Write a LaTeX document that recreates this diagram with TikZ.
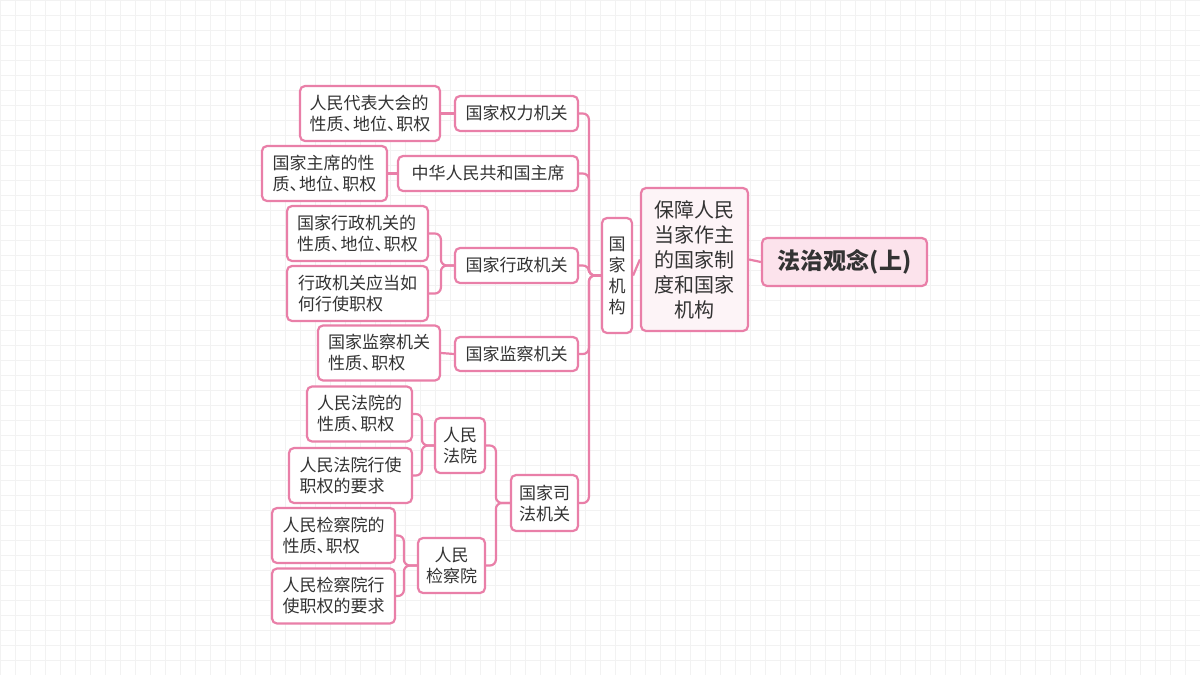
\documentclass[tikz,border=0pt]{standalone}
\usepackage{fontspec}
\setmainfont{Noto Sans CJK SC}
\usetikzlibrary{positioning}
\definecolor{mapline}{HTML}{E97FA8}
\definecolor{rootfill}{HTML}{FCE3EC}
\definecolor{midfill}{HTML}{FDF4F7}
\newcommand{\dun}{\hbox to 0.55em{、\hss}}
\tikzset{
  box/.style={draw=mapline, line width=1.1pt, rounded corners=2.5pt, fill=white,
    inner sep=2pt, font=\fontsize{8.5}{10.5}\selectfont, text=black!80},
  leaf/.style={box, align=left, minimum height=27.5pt},
  link/.style={draw=mapline, line width=1.1pt, rounded corners=3pt},
}
\begin{document}
\begin{tikzpicture}[x=0.5pt, y=-0.5pt]
  \useasboundingbox (0,0) rectangle (1200,675);
  \fill[white] (0,0) rectangle (1200,675);
  \draw[black!5, line width=0.3pt, step=7.5pt] (0,0) grid (1200,675);

  % centre and second level
  \node[box, fill=rootfill, minimum width=82.5pt, minimum height=24pt,
    font=\fontsize{11.5}{13}\selectfont\bfseries] (root) at (844.5,262) {法治观念(上)};
  \node[box, fill=midfill, align=center, minimum width=53.5pt, minimum height=71.5pt,
    font=\fontsize{10}{12.5}\selectfont] (sys) at (694.5,259.5)
    {保障人民\\当家作主\\的国家制\\度和国家\\机构};
  \node[box, align=center, minimum width=15pt, minimum height=57.5pt] (org) at (617,275.5)
    {国\\家\\机\\构};

  % organs
  \node[box, minimum width=61.5pt, minimum height=17.5pt] (power) at (516.5,113.5) {国家权力机关};
  \node[box, minimum width=90pt, minimum height=17.5pt] (pres) at (488,173.5) {中华人民共和国主席};
  \node[box, minimum width=61.5pt, minimum height=17.5pt] (admin) at (516.5,265.5) {国家行政机关};
  \node[box, minimum width=61.5pt, minimum height=17pt] (super) at (516.5,354) {国家监察机关};
  \node[box, align=center, minimum width=33.5pt, minimum height=28pt] (judic) at (544.5,503) {国家司\\法机关};
  \node[box, align=center, minimum width=25pt, minimum height=27.5pt] (court) at (460,445.5) {人民\\法院};
  \node[box, align=center, minimum width=33.5pt, minimum height=27.5pt] (procu) at (451.5,565.5) {人民\\检察院};

  % leaves
  \node[leaf, minimum width=70pt] (powerA) at (370,113.5) {人民代表大会的\\性质\dun 地位\dun 职权};
  \node[leaf, minimum width=62.5pt] (presA) at (324.5,173.5) {国家主席的性\\质\dun 地位\dun 职权};
  \node[leaf, minimum width=70.5pt] (adminA) at (357.5,233.5) {国家行政机关的\\性质\dun 地位\dun 职权};
  \node[leaf, minimum width=70.5pt] (adminB) at (357.5,293.5) {行政机关应当如\\何行使职权};
  \node[leaf, minimum width=61pt] (superA) at (379,353) {国家监察机关\\性质\dun 职权};
  \node[leaf, minimum width=52.5pt] (courtA) at (359.5,414) {人民法院的\\性质\dun 职权};
  \node[leaf, minimum width=61.5pt] (courtB) at (350.5,475.5) {人民法院行使\\职权的要求};
  \node[leaf, minimum width=61.5pt] (procuA) at (333.5,535.5) {人民检察院的\\性质\dun 职权};
  \node[leaf, minimum width=61.5pt] (procuB) at (333.5,596) {人民检察院行\\使职权的要求};

  % connectors
  \draw[link] (root.west) -- (sys.east);
  \draw[link] (sys.west) -- (org.east);
  \foreach \n in {power,pres,admin,super,judic}
    \draw[link] (org.west) -- ++(-12,0) |- (\n.east);
  \draw[link] (power.west) -- (powerA.east);
  \draw[link] (pres.west) -- (presA.east);
  \foreach \n in {adminA,adminB}
    \draw[link] (admin.west) -- ++(-13,0) |- (\n.east);
  \draw[link] (super.west) -- (superA.east);
  \foreach \n in {court,procu}
    \draw[link] (judic.west) -- ++(-14,0) |- (\n.east);
  \foreach \n in {courtA,courtB}
    \draw[link] (court.west) -- ++(-12,0) |- (\n.east);
  \foreach \n in {procuA,procuB}
    \draw[link] (procu.west) -- ++(-13,0) |- (\n.east);
\end{tikzpicture}
\end{document}
